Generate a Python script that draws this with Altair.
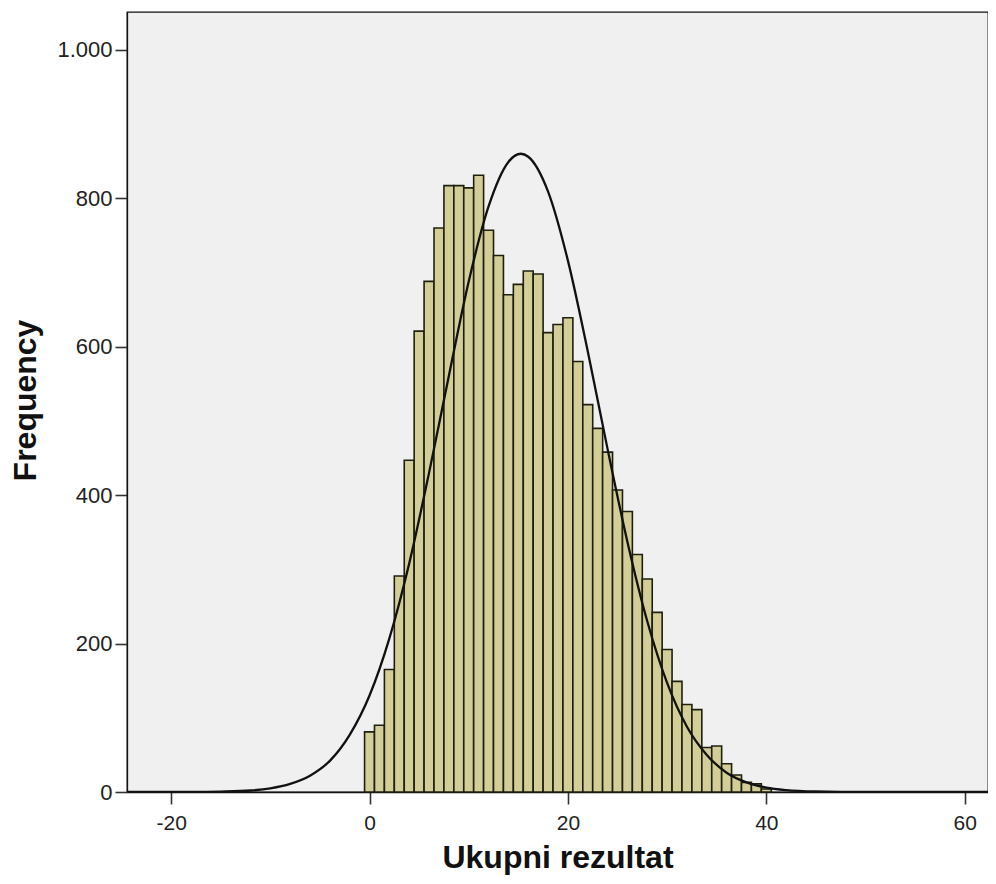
import altair as alt
import pandas as pd

# Histogram bins (centre of each 1-unit bin) and frequencies
bin_centers = list(range(0, 41))
frequencies = [81, 90, 165, 291, 447, 621, 688, 760, 817, 817,
               814, 831, 757, 723, 670, 684, 702, 698, 619, 630,
               639, 580, 522, 490, 458, 407, 378, 320, 287, 242,
               192, 149, 118, 111, 60, 62, 38, 23, 13, 11, 4]

# Normal curve points
curve_x = [-24.5, -18, -15, -12, -10, -8, -6, -4, -2, 0, 2, 4, 6, 8, 10, 12, 14,
           15.25, 16, 18, 20, 22, 24, 26, 28, 30, 32, 34, 36, 38, 40, 42, 45, 50, 63]
curve_y = [0, 0, 0.5, 2, 5, 11, 22, 42, 77, 130, 207, 308, 430, 561, 688, 789, 849,
           860, 856, 809, 716, 594, 462, 337, 230, 147, 88, 50, 26, 13, 6, 2.6, 0.7, 0, 0]

x_ticks = [-20, 0, 20, 40, 60]
y_ticks = [0, 200, 400, 600, 800, 1000]

bars_df = pd.DataFrame({"center": bin_centers, "freq": frequencies})
curve_df = pd.DataFrame({"x": curve_x, "y": curve_y})

x_scale = alt.Scale(domain=[-24.45, 62.35], nice=False, zero=False)
y_scale = alt.Scale(domain=[0, 1051], nice=False)

x_axis = alt.Axis(
    title="Ukupni rezultat", values=x_ticks, grid=False,
    labelExpr="'' + datum.value",
    labelFont="Liberation Sans", labelFontSize=21, labelColor="#222222",
    labelPadding=8, tickSize=12, tickWidth=1.6, tickColor="#333333",
    domainColor="#111111", domainWidth=1.3,
    titleFont="Liberation Sans", titleFontSize=32, titleFontWeight="bold",
    titleColor="#111111", titleBaseline="alphabetic", titleY=75,
)
y_axis = alt.Axis(
    title="Frequency", values=y_ticks, grid=False,
    labelExpr="datum.value == 1000 ? '1.000' : '' + datum.value",
    labelFont="Liberation Sans", labelFontSize=22, labelColor="#222222",
    labelPadding=3, tickSize=12, tickWidth=1.6, tickColor="#333333",
    domainColor="#111111", domainWidth=1.3,
    titleFont="Liberation Sans", titleFontSize=32, titleFontWeight="bold",
    titleColor="#111111", titleBaseline="alphabetic", titleX=-92, titleY=388,
)

bars = alt.Chart(bars_df).transform_calculate(
    x0="datum.center - 0.5", x1="datum.center + 0.5"
).mark_rect(fill="#D3CE97", stroke="#1f1f10", strokeWidth=1.6).encode(
    x=alt.X("x0:Q", scale=x_scale, axis=x_axis),
    x2="x1:Q",
    y=alt.Y("freq:Q", scale=y_scale, axis=y_axis),
    y2=alt.datum(0),
)

curve = alt.Chart(curve_df).mark_line(
    color="#111111", strokeWidth=2.3, interpolate="monotone", clip=True
).encode(
    x=alt.X("x:Q", scale=x_scale),
    y=alt.Y("y:Q", scale=y_scale),
)

chart = alt.layer(bars, curve).properties(
    width=861, height=780,
    autosize="none",
    padding={"left": 119, "top": 4, "right": 0, "bottom": 84},
    background="white",
).configure_view(
    fill="#F0F0F0", stroke="#111111", strokeWidth=1.3
)

chart.save("out.html", embed_options={"renderer": "svg", "actions": False})
